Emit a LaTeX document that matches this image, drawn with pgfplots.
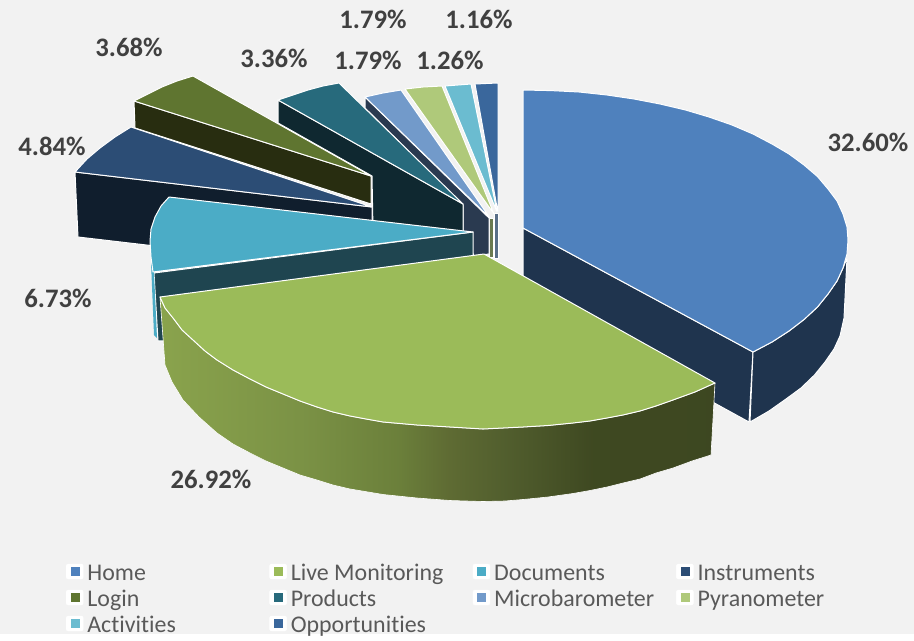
\documentclass[border=0pt]{standalone}
\usepackage{fontspec}
\setmainfont{Carlito}[Ligatures=NoCommon]
\usepackage{pgfplots}
\pgfplotsset{compat=1.18}
\definecolor{bg}{HTML}{F2F2F2}
\definecolor{cHome}{HTML}{4F81BD}\definecolor{sHome}{HTML}{1F344E}
\definecolor{cLive}{HTML}{9BBB59}
\definecolor{cDoc}{HTML}{4BACC6}\definecolor{sDoc}{HTML}{1F4550}
\definecolor{cIns}{HTML}{2C4D75}\definecolor{sIns}{HTML}{101E2D}
\definecolor{cLog}{HTML}{5F7530}\definecolor{sLog}{HTML}{282D10}
\definecolor{cPro}{HTML}{276A7C}\definecolor{sPro}{HTML}{0F2830}
\definecolor{cMic}{HTML}{729ACA}\definecolor{sMic}{HTML}{2A3A50}
\definecolor{cPyr}{HTML}{AFC97A}\definecolor{sPyr}{HTML}{6A7A50}
\definecolor{cAct}{HTML}{6BBCD0}\definecolor{sAct}{HTML}{5A6F88}
\definecolor{cOpp}{HTML}{3A679C}
\definecolor{lab}{HTML}{404040}
\definecolor{leg}{HTML}{595959}
\pgfdeclarehorizontalshading{greenside}{100bp}{
  rgb(0bp)=(.54,.64,.30); rgb(25bp)=(.54,.64,.30); rgb(38bp)=(.48,.57,.27);
  rgb(46.5bp)=(.42,.50,.23); rgb(51bp)=(.37,.42,.20); rgb(56bp)=(.32,.37,.18);
  rgb(64bp)=(.245,.285,.13); rgb(75bp)=(.24,.28,.13); rgb(100bp)=(.24,.28,.13)}
\pgfplotsset{
  pie/.style={forget plot,draw=white,line width=1bp,line join=round,fill=#1},
  sq/.style={legend image code/.code={
    \fill[white,rounded corners=2bp] (0bp,-3bp) rectangle (17bp,12bp);
    \fill[#1] (4.5bp,0.5bp) rectangle (12.5bp,8.5bp);}},
}
\tikzset{pct/.style={font=\bfseries\fontsize{26.8}{27}\selectfont,text=lab,inner sep=0pt}}
\begin{document}
\begin{tikzpicture}
\begin{axis}[
  scale only axis,width=914bp,height=634bp,
  xmin=0,xmax=914,ymin=0,ymax=634,y dir=reverse,hide axis,
  legend columns=4,
  legend cell align=left,
  legend style={draw=none,fill=none,inner sep=0pt,outer sep=0pt,
    at={(axis cs:66,563)},anchor=north west,
    font=\fontsize{24}{24}\selectfont,text=leg,
    nodes={text width=182bp,text height=17bp,text depth=9bp,inner sep=0pt,align=left},
    /tikz/every odd column/.style={column sep=4bp}},
]
\addlegendimage{sq=cHome}\addlegendentry{Home}
\addlegendimage{sq=cLive}\addlegendentry{Live\hspace{-2.5bp} Monitoring}
\addlegendimage{sq=cDoc}\addlegendentry{Documents}
\addlegendimage{sq=cIns}\addlegendentry{Instruments}
\addlegendimage{sq=cLog}\addlegendentry{Login}
\addlegendimage{sq=cPro}\addlegendentry{Products}
\addlegendimage{sq=cMic}\addlegendentry{Microbarometer}
\addlegendimage{sq=cPyr}\addlegendentry{Pyranometer}
\addlegendimage{sq=cAct}\addlegendentry{Activities}
\addlegendimage{sq=cOpp}\addlegendentry{Opportunities}
% background
\addplot[forget plot,draw=none,fill=bg] coordinates {(0,0)(914,0)(914,634)(0,634)} --cycle;
% Home side
\addplot[pie=sHome] coordinates {(523,228)(753,352)(749,422)(523,298)} --cycle;
\addplot[pie=sHome] coordinates {(753,352)(772,342)(789,331)(804,319.5)(817.5,307)(828,294)(837,281)(843,268)(847,258)(844,318)(840,336)(834,349)(825,362)(814.5,375)(801,388)(786,399)(769,411)(750,422)} --cycle;
% Home top
\addplot[pie=cHome] coordinates {(523,228)(523,90)(551,90.6)(579,92)(607,95)(634,99)(660,104)(685.5,110)(709,117)(732,125)(753,134)(772,144)(789,154)(804,165)(817.5,176.6)(828,189)(837,201)(843,214)(847,227)(848,240)(847,254)(843,268)(837,281)(828,294)(817.5,307)(804,319.5)(789,331)(772,342)(753,352)} --cycle;
% Opportunities
\addplot[pie=sAct] coordinates {(494,213)(498,213)(498,258)(494,258)} --cycle;
\addplot[pie=cOpp] coordinates {(498,213)(498,83)(486,83.5)(475,84)} --cycle;
% Activities
\addplot[pie=cAct] coordinates {(497,212)(471,84)(458,85)(445,86)} --cycle;
% Pyranometer
\addplot[pie=sPyr] coordinates {(489,218)(493,218)(493,257)(489,257)} --cycle;
\addplot[pie=cPyr] coordinates {(494,214)(442,86)(423,87)(405,89)} --cycle;
% Microbarometer
\addplot[pie=sMic] coordinates {(365,97)(365,108)(463,205)(463,232)(474,256)(489,254)(489,218)} --cycle;
\addplot[pie=cMic] coordinates {(490,218)(401,90)(383,93)(365,97)} --cycle;
% Products
\addplot[pie=sPro] coordinates {(278,100)(278,123)(372,176)(373,230)(463,236)(463,204)} --cycle;
\addplot[pie=cPro] coordinates {(463,204)(339,83)(323,86)(308,90)(293,95)(278,100)} --cycle;
% Login
\addplot[pie=sLog] coordinates {(134,101)(135,128)(371,204)(371,176)} --cycle;
\addplot[pie=cLog] coordinates {(371,176)(193,76)(177,81)(162,87)(148,94)(134,101)} --cycle;
% Instruments
\addplot[pie=sIns] coordinates {(75,172)(78,237)(155,246)(300,262)(372,226)(372,207)} --cycle;
\addplot[pie=cIns] coordinates {(372,207)(131,127)(115,137)(100,148)(87,159)(75,172)} --cycle;
% Documents
\addplot[pie=sDoc] coordinates {(473,232)(154,273)(158,341)(200,340)(473,262)} --cycle;
\addplot[forget plot,draw=none,fill=cDoc] coordinates {(151,262)(154,335)(157,338)(154,273)} --cycle;
\addplot[pie=cDoc] coordinates {(473,232)(169,197)(161,206)(155,217)(151,229)(150,241)(151,257)(153,272)} --cycle;
% Live Monitoring
\addplot[forget plot,draw=white,line width=0.6bp,line join=round,shading=greenside]
 coordinates {(160,297)(165,308)(173,318)(182,330)(193,340)(205,351)(217,360)(233,370)(250,379)(266,387)(283,394)(300,401)(317,407)(333,412)(350,416)(366,419)(383,422)(417,425)(450,427)(483,429)(523,427)(548,425.5)(573,423)(590,421)(607,418)(623,415)(640,411)(656,406)(673,400)(695,392)(715,383)(711,455)(692,461)(673,468)(656,473)(640,479)(623,483)(607,487)(590,490.5)(573,493.5)(548,497)(523,499.5)(505,501)(483,501.5)(450,500.5)(417,498)(383,494.5)(350,489)(333,485)(317,480)(300,475)(283,468)(266,461)(250,453)(233,444)(217,433)(199,417)(183,400)(172,382)(165,365)} --cycle;
\addplot[pie=cLive] coordinates {(484,254)(715,383)(695,392)(673,400)(656,406)(640,411)(623,415)(607,418)(590,421)(573,423)(548,425.5)(523,427)(483,429)(450,427)(417,425)(383,422)(366,419)(350,416)(333,412)(317,407)(300,401)(283,394)(266,387)(250,379)(233,370)(217,360)(205,351)(193,340)(182,330)(173,318)(165,308)(160,297)} --cycle;
\node[pct] at (axis cs:868,142.5) {32.60\%};
\node[pct] at (axis cs:211,479.5) {26.92\%};
\node[pct] at (axis cs:58,298.5) {6.73\%};
\node[pct] at (axis cs:52,146.5) {4.84\%};
\node[pct] at (axis cs:129,47.5) {3.68\%};
\node[pct] at (axis cs:274,58.5) {3.36\%};
\node[pct] at (axis cs:373,19.5) {1.79\%};
\node[pct] at (axis cs:368,60.5) {1.79\%};
\node[pct] at (axis cs:450,60.5) {1.26\%};
\node[pct] at (axis cs:479,19.5) {1.16\%};
\end{axis}
\end{tikzpicture}
\end{document}
